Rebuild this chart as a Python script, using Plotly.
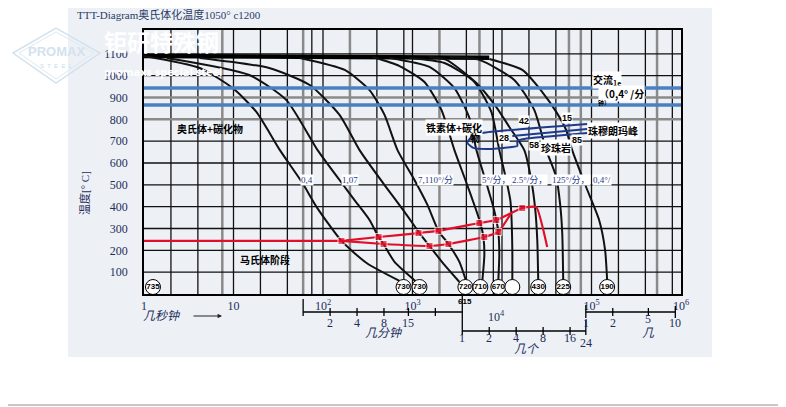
import numpy as np
import plotly.graph_objects as go

# ---- values (time in s, temperature in degC) ----
plateau_t = [1, 7200]
plateau_T = [1090, 1082]

a_t = [1, 4.2, 9.8, 18, 33, 59, 85, 161, 307, 716]
a_T = [1090, 1035, 943, 834, 659, 508, 398, 243, 142, 60]
b_t = [1.8, 15, 39, 87, 153, 225, 331, 418, 475, 630, 1108]
b_T = [1081, 1003, 888, 659, 522, 430, 339, 261, 229, 147, 55]
c_t = [4.2, 25, 71, 153, 256, 487, 814, 1197, 1548, 2274, 3342]
c_T = [1081, 1035, 957, 820, 659, 499, 376, 279, 220, 133, 55]
d_t = [55, 175, 331, 487, 680, 1052, 1469, 1950, 2520, 3342, 4000]
d_T = [1081, 1026, 934, 820, 659, 522, 408, 289, 229, 147, 55]
e_t = [358, 716, 1361, 2105, 2940, 3900, 5045, 5730, 6195, 6350, 6040]
e_T = [1085, 1044, 971, 843, 659, 522, 394, 325, 261, 179, 64]
f_t = [554, 1548, 2940, 4325, 5175, 6685, 8000, 8640, 9100, 9330, 9100]
f_T = [1081, 1040, 943, 806, 659, 508, 398, 339, 284, 179, 64]
g_t = [925, 2274, 4912, 7600, 9330, 11170, 12380, 12700, 13040, 13040]
g_T = [1081, 1058, 971, 834, 659, 522, 430, 371, 201, 64]
h_t = [1548, 2393, 5175, 8640, 12070, 17740, 21230, 23550, 24780, 25400]
h_T = [1085, 1072, 966, 856, 765, 659, 522, 385, 247, 64]
i_t = [2587, 5585, 13710, 22920, 31200, 40360, 44700, 47100, 48300]
i_T = [1085, 1072, 980, 843, 659, 536, 408, 279, 64]
j_t = [7220, 16860, 28180, 40360, 52100, 60800, 87100, 121600, 141900, 149500]
j_T = [1076, 1026, 925, 834, 751, 659, 490, 339, 201, 64]

# martensite lines
ms_t = [1, 161]
ms_T = [243, 243]
up_t = [161, 418, 1166, 1950, 5585, 8640, 16860, 24150, 32000]
up_T = [243, 261, 279, 289, 325, 339, 394, 398, 215]
up_sq = [1, 1, 1, 1, 1, 1, 1, 0, 0]
lo_t = [161, 475, 1548, 2520, 6350, 9100, 12700]
lo_T = [243, 229, 220, 229, 261, 284, 371]
lo_sq = [0, 1, 1, 1, 1, 1, 0]

# pearlite nose outline
nose_t = [89500, 6040, 4550, 4100, 4790, 7220, 10080, 14830, 14830, 17740, 89500]
nose_T = [779, 737, 719, 692, 669, 664, 669, 678, 701, 710, 737]
nose2_t = [13040, 89500]
nose2_T = [724, 756]

ac_lines = [943, 866]

# hardness at curve ends
hv_t = [1.26, 794, 1197, 3900, 5730, 9100, 13040, 25400, 48300, 149500]
hv_text = ["735", "730", "730", "720", "710", "670", "", "430", "225", "190"]

y_ticks = [100, 200, 300, 400, 500, 600, 700, 800, 900, 1000, 1100]
x_ticks = [1, 10, 100, 1000, 100000, 1000000]
x_ticktext = ["1", "10", "10<sup>2</sup>", "10<sup>3</sup>", "10<sup>5</sup>", "10<sup>6</sup>"]

grid_black = [2, 4, 10, 20, 40, 75, 100, 400, 800, 1000, 4000, 8000, 1e4, 2e4, 4e4, 1e5, 2e5, 4e5, 8e5]
grid_gray = [7.5, 60, 200, 2000, 5600, 5.6e4, 7.6e4, 5.4e5]
hgrid_black = [100, 200, 300, 400, 500, 600, 700, 1000, 1100]
hgrid_gray = [800, 900]

minutes = [2, 4, 8, 15, 30]
hours = [2, 4, 8, 16]
days = [2, 5]

NAVY = "#1f2d5c"
SERIF = "Liberation Serif, Noto Sans CJK SC"
CJK = "Noto Sans CJK SC"

# the page body has an 8px margin, so the figure is 8px smaller and its
# coordinates below are page pixels shifted by that margin
OFF = 8


def py(ypx):
    return (294 - ypx) / 264.0


def pxx(xpx):
    return (xpx - 144) / 537.0


fig = go.Figure()

fig.add_trace(go.Scatter(x=plateau_t, y=plateau_T, mode="lines",
                         line=dict(color="black", width=4.5), hoverinfo="skip"))
for tt, TT in [(a_t, a_T), (b_t, b_T), (c_t, c_T), (d_t, d_T), (e_t, e_T),
               (f_t, f_T), (g_t, g_T), (h_t, h_T), (i_t, i_T), (j_t, j_T)]:
    fig.add_trace(go.Scatter(x=tt, y=TT, mode="lines", line=dict(color="#111", width=2, shape="spline", smoothing=0.6)))

for T in ac_lines:
    fig.add_trace(go.Scatter(x=[1, 1e6], y=[T, T], mode="lines", line=dict(color="#4a80c0", width=3.5)))

fig.add_trace(go.Scatter(x=nose_t, y=nose_T, mode="lines", line=dict(color="#1f3a8c", width=2, shape="spline", smoothing=0.5)))
fig.add_trace(go.Scatter(x=nose2_t, y=nose2_T, mode="lines", line=dict(color="#1f3a8c", width=2)))

RED = "#e0102a"
fig.add_trace(go.Scatter(x=ms_t, y=ms_T, mode="lines", line=dict(color=RED, width=2.2)))
fig.add_trace(go.Scatter(x=up_t, y=up_T, mode="lines+markers", line=dict(color=RED, width=2.2, shape="spline", smoothing=0.4),
                         marker=dict(symbol="square", color=RED, size=[7 if s else 0 for s in up_sq])))
fig.add_trace(go.Scatter(x=lo_t, y=lo_T, mode="lines+markers", line=dict(color=RED, width=2.2, shape="spline", smoothing=0.4),
                         marker=dict(symbol="square", color=RED, size=[7 if s else 0 for s in lo_sq])))

fig.add_trace(go.Scatter(x=hv_t, y=[32] * len(hv_t), mode="markers+text", text=hv_text,
                         textposition="middle center", cliponaxis=False,
                         textfont=dict(family="Liberation Sans Narrow, Arial", size=8, color="black", weight="bold"),
                         marker=dict(symbol="circle", size=15, color="white", line=dict(color="black", width=1))))

shapes = []
# grey panel behind everything + rule at the bottom of the page
shapes.append(dict(type="rect", xref="paper", yref="paper", x0=pxx(68), x1=pxx(712), y0=py(357), y1=py(0),
                   fillcolor="#edf1f5", line=dict(width=0), layer="below"))
shapes.append(dict(type="line", xref="paper", yref="paper", x0=pxx(0), x1=pxx(786), y0=py(405), y1=py(405),
                   line=dict(color="#c8c8c8", width=2), layer="below"))
for g in grid_gray:
    shapes.append(dict(type="line", xref="x", yref="paper", x0=g, x1=g, y0=0, y1=1, line=dict(color="#8a8a8a", width=2.5), layer="below"))
for g in grid_black:
    shapes.append(dict(type="line", xref="x", yref="paper", x0=g, x1=g, y0=0, y1=1, line=dict(color="#111", width=1.3), layer="below"))
for g in hgrid_gray:
    shapes.append(dict(type="line", xref="paper", yref="y", x0=0, x1=1, y0=g, y1=g, line=dict(color="#8a8a8a", width=2.5), layer="below"))
for g in hgrid_black:
    shapes.append(dict(type="line", xref="paper", yref="y", x0=0, x1=1, y0=g, y1=g, line=dict(color="#111", width=1.3), layer="below"))


def hl(t0, t1, ypx):
    shapes.append(dict(type="line", xref="x", yref="paper", x0=t0, x1=t1, y0=py(ypx), y1=py(ypx), line=dict(color="black", width=1.3)))


def vt(t, y0, y1):
    shapes.append(dict(type="line", xref="x", yref="paper", x0=t, x1=t, y0=py(y0), y1=py(y1), line=dict(color="black", width=1.3)))


# minutes scale
hl(60, 3600, 312)
vt(60, 299, 316)
vt(3600, 294, 335)
for m in minutes:
    vt(m * 60, 308, 316)
# hours scale
hl(3600, 86400, 331)
for h in hours:
    vt(h * 3600, 327, 335)
vt(86400, 320, 335)
# days scale
hl(86400, 864000, 312)
vt(86400, 305, 318)
vt(864000, 306, 318)
for d in days:
    vt(d * 86400, 308, 316)

# logo diamond
shapes.append(dict(type="path", xref="paper", yref="paper",
                   path="M %f %f L %f %f L %f %f L %f %f Z" % (pxx(13), py(53), pxx(56), py(28), pxx(100), py(53), pxx(56), py(83)),
                   line=dict(color="#d3e2ef", width=1.5), fillcolor="rgba(0,0,0,0)"))
shapes.append(dict(type="path", xref="paper", yref="paper",
                   path="M %f %f L %f %f L %f %f L %f %f Z" % (pxx(19), py(53), pxx(56), py(32), pxx(94), py(53), pxx(56), py(79)),
                   line=dict(color="#dde9f3", width=1), fillcolor="rgba(0,0,0,0)"))

ann = []


def lab(text, t, T, size=10, color="black", bold=True, bg=None, family=CJK):
    a = dict(text=text, x=np.log10(t), y=T, xref="x", yref="y", showarrow=False,
             xanchor="center", yanchor="middle",
             font=dict(family=family, size=size, color=color, weight="bold" if bold else "normal"))
    if bg:
        a["bgcolor"] = bg
        a["borderpad"] = 0
    ann.append(a)


lab("奥氏体+碳化物", 5.4, 760)
lab("铁素体+碳化", 2940, 762, bg="white")
lab("物", 5045, 719)
lab("马氏体阶段", 22.4, 160)
lab("珠穆朗玛峰", 174000, 751, bg="white")
lab("珍珠岩", 40360, 671, bg="white")
lab("交流<sub>1e</sub>", 150000, 982, size=10, bg="white")
lab("（0,4° /分", 214000, 918, size=10, bg="white")
lab("钟）", 138000, 878, size=6)
for txt, t, T in [("42", 17740, 790), ("15", 53500, 806), ("28", 10600, 714), ("58", 22920, 682), ("85", 69200, 705)]:
    lab(txt, t, T, size=9, family="Liberation Sans, Arial", bg="white")
for txt, t in [("0,4", 65.7), ("1,07", 198), ("7,110°/分", 1803), ("5°/分，", 8640),
               ("2.5°/分，", 20180), ("125°/分，", 59300), ("0,4°/", 131400)]:
    lab(txt, t, 522, size=9, color="#1f3a8c", bold=False, bg="white", family=SERIF)


def plab(text, xpx, ypx, size=12, italic=False, color=NAVY, anchor="center", family=SERIF, bold=False):
    ann.append(dict(text=text, x=pxx(xpx), y=py(ypx), xref="paper", yref="paper", showarrow=False,
                    xanchor=anchor, yanchor="middle",
                    font=dict(family=family, size=size, color=color, style="italic" if italic else "normal",
                              weight="bold" if bold else "normal")))


def xlab(text, t, ypx, size=12, italic=False, color=NAVY, family=SERIF, bold=False):
    ann.append(dict(text=text, x=np.log10(t), y=py(ypx), xref="x", yref="paper", showarrow=False,
                    xanchor="center", yanchor="middle",
                    font=dict(family=family, size=size, color=color, style="italic" if italic else "normal",
                              weight="bold" if bold else "normal")))


xlab("10<sup>4</sup>", 8600, 316)
xlab("615", 3900, 301, size=8, color="black", family="Liberation Sans Narrow, Arial", bold=True)
for m in minutes[:4]:
    xlab(str(m), m * 60, 323)
xlab("1", 3600, 338)
for h in hours:
    xlab(str(h), h * 3600, 338)
xlab("24", 86400, 343)
xlab("1", 86400, 323)
xlab("2", 2 * 86400, 323)
xlab("5", 5 * 86400, 319)
xlab("10", 10 * 86400, 323)
xlab("几分钟", 480, 333, italic=True)
xlab("几个", 19000, 349, italic=True)
xlab("几", 5 * 86400, 333, italic=True)
plab("几秒钟", 162, 316, italic=True)
ann.append(dict(x=pxx(222), y=py(316), xref="paper", yref="paper", ax=-30, ay=0, text="", showarrow=True,
                arrowhead=2, arrowsize=0.8, arrowwidth=1.1, arrowcolor="#222"))

plab("TTT-Diagram奥氏体化温度1050° c1200", 75, 14, size=11, anchor="left", color="#2b3a67")
ann.append(dict(text="温度[° C]", x=pxx(84), y=py(193), xref="paper", yref="paper", showarrow=False, textangle=-90,
                xanchor="center", yanchor="middle", font=dict(family=SERIF, size=11, color=NAVY)))

# watermarks
plab("钜研特殊钢", 161, 41, size=23, color="white", family=CJK, bold=True)
plab("promaxs special steel", 163, 72, size=11, color="white", family="Open Sans, Arial", bold=True)
plab("PROMAX", 56, 51, size=13, color="#d3e2ef", family="Liberation Sans", bold=True)
plab("S  T  E  E  L", 56, 66, size=6, color="#c9dbea", family="Liberation Sans")

fig.update_layout(
    width=786 - OFF, height=407 - OFF,
    margin=dict(l=144 - OFF, r=105, t=30 - OFF, b=113),
    paper_bgcolor="white", plot_bgcolor="#edf1f5",
    showlegend=False,
    font=dict(family=SERIF, color=NAVY),
    shapes=shapes, annotations=ann,
)
fig.update_xaxes(type="log", range=[0, 6], tickvals=x_ticks, ticktext=x_ticktext, showgrid=False, zeroline=False,
                 showline=True, mirror=True, linecolor="black", linewidth=1.5, ticks="",
                 tickfont=dict(family=SERIF, size=12, color=NAVY))
fig.update_yaxes(range=[0, 1209], tickvals=y_ticks, showgrid=False, zeroline=False,
                 showline=True, mirror=True, linecolor="black", linewidth=1.5, ticks="", ticklabelstandoff=12,
                 tickfont=dict(family=SERIF, size=12, color=NAVY))

fig.write_html("out.html")
